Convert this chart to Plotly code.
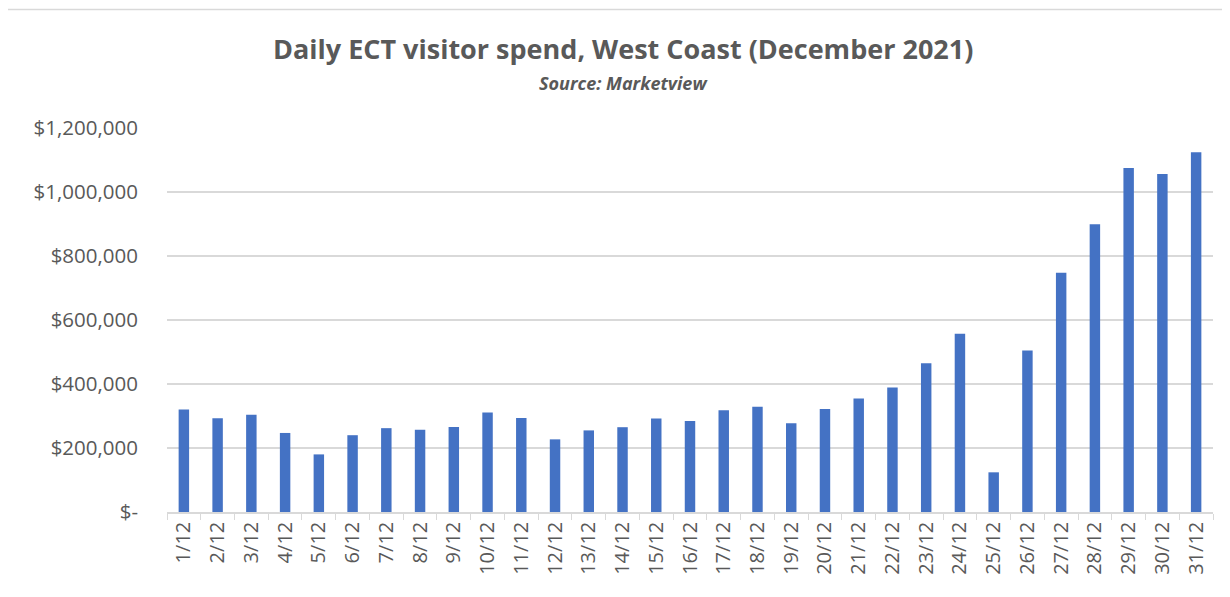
import plotly.graph_objects as go

days = [f"{d}/12" for d in range(1, 32)]
spend = [320000, 293000, 304000, 247000, 180000, 240000, 262000, 257000, 266000, 311000,
         294000, 227000, 255000, 265000, 292000, 284000, 318000, 329000, 277000, 322000,
         355000, 389000, 465000, 557000, 124000, 505000, 748000, 899000, 1075000, 1056000,
         1124000]
y_ticks = [0, 200000, 400000, 600000, 800000, 1000000, 1200000]
y_labels = ["$-" if v == 0 else f"${v:,.0f}" for v in y_ticks]

W, H = 1230, 597
OFF = 8  # page offset of the figure
ML, MR, MT, MB = 167 - OFF, 25, 128 - OFF, 93
PW, PH = W - ML - MR, H - MT - MB

def px_x(p):
    return (p - OFF - ML) / PW

def px_y(p):
    return 1 - (p - OFF - MT) / PH

fig = go.Figure(go.Bar(x=days, y=spend, marker=dict(color="#4472C4", line=dict(width=0)),
                       width=0.31))

GREY = "#595959"
fig.update_layout(
    width=W, height=H,
    margin=dict(l=ML, r=MR, t=MT, b=MB, autoexpand=False),
    plot_bgcolor="white", paper_bgcolor="white",
    font=dict(family="Open Sans", color=GREY),
    showlegend=False,
    annotations=[
        dict(text="<b>Daily ECT visitor spend, West Coast (December 2021)</b>",
             x=px_x(623), y=px_y(48), xref="paper", yref="paper", showarrow=False,
             xanchor="center", yanchor="middle",
             font=dict(size=27, color=GREY, family="Open Sans")),
        dict(text="<b><i>Source: Marketview</i></b>",
             x=px_x(623), y=px_y(83), xref="paper", yref="paper", showarrow=False,
             xanchor="center", yanchor="middle",
             font=dict(size=18, color=GREY, family="Open Sans")),
    ],
    shapes=[
        dict(type="line", xref="paper", yref="paper", x0=px_x(0), x1=px_x(1250),
             y0=px_y(9.5), y1=px_y(9.5), line=dict(color="#d9d9d9", width=1.5)),
    ],
)
fig.update_xaxes(
    type="category", tickangle=-90, tickson="boundaries",
    ticks="outside", ticklen=6, tickcolor="#d9d9d9",
    showline=True, linecolor="#d9d9d9", linewidth=1.5,
    tickfont=dict(size=20, color=GREY, family="Open Sans"),
    showgrid=False,
)
fig.update_yaxes(
    range=[0, 1200000], tickvals=y_ticks, ticktext=y_labels,
    showgrid=True, gridcolor="#d9d9d9", gridwidth=1.5,
    zeroline=False, ticks="", ticklabelstandoff=28,
    tickfont=dict(size=20.5, color=GREY, family="Open Sans"),
)

fig.write_html("out.html")
